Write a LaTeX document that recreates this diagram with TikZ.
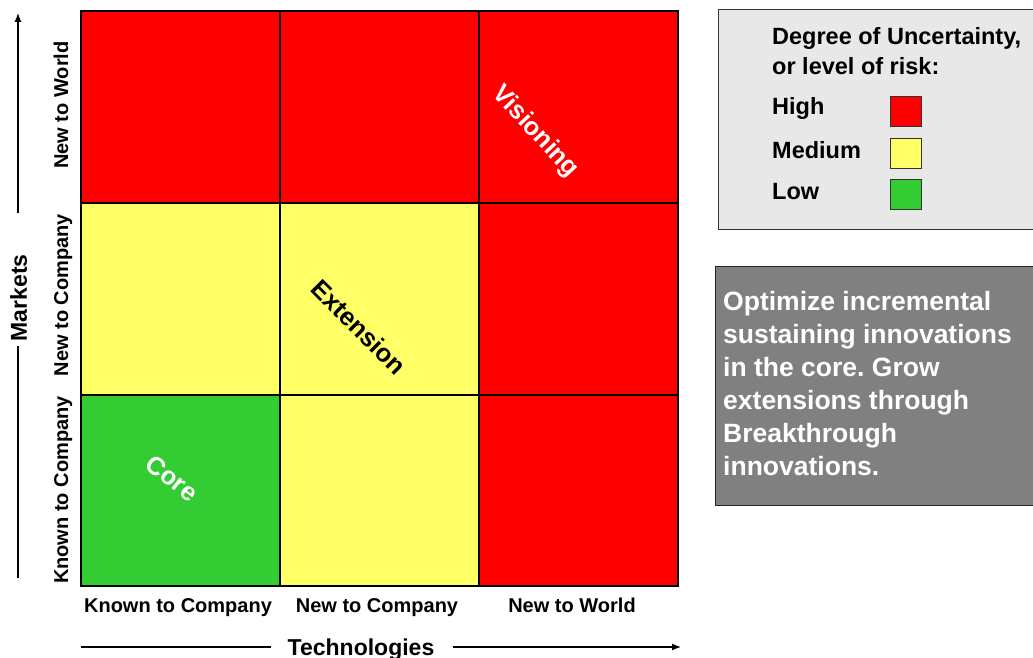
\documentclass[tikz,border=0pt]{standalone}
\usepackage{fontspec}
\setmainfont{Liberation Sans}[BoldFont={Liberation Sans Bold}]
\usetikzlibrary{arrows.meta}
\definecolor{riskhigh}{HTML}{FF0000}
\definecolor{riskmed}{HTML}{FFFF66}
\definecolor{risklow}{HTML}{33CC33}
\definecolor{legendbg}{HTML}{E8E8E8}
\definecolor{notebg}{HTML}{808080}
\frenchspacing
\begin{document}
\begin{tikzpicture}[x=1pt,y=-1pt,
  cell/.style={draw=black,line width=1.1pt},
  axislbl/.style={font=\fontsize{20}{24}\selectfont\bfseries,anchor=base},
  axistitle/.style={font=\fontsize{23}{27}\selectfont\bfseries,anchor=base},
  zone/.style={font=\fontsize{25.5}{30}\selectfont\bfseries},
  legendtxt/.style={font=\fontsize{23.5}{28}\selectfont\bfseries,anchor=west,inner sep=0pt},
  swatch/.style={draw=black!80,line width=0.8pt,minimum width=31pt,minimum height=30pt,inner sep=0pt},
  axisline/.style={line width=1.2pt},
  axistip/.style={-{Latex[length=9pt,width=7pt]}}]
\useasboundingbox (0,0) rectangle (1033,658);

% risk grid (columns: technologies, rows: markets)
\fill[riskhigh] (81,11) rectangle (678,203);
\fill[riskmed] (81,203) rectangle (479,395);
\fill[riskhigh] (479,203) rectangle (678,586);
\fill[risklow] (81,395) rectangle (280,586);
\fill[riskmed] (280,395) rectangle (479,586);
\draw[cell] (280,11) -- (280,586) (479,11) -- (479,586)
            (81,203) -- (678,203) (81,395) -- (678,395);
\draw[cell] (81,11) rectangle (678,586);

% zone names
\node[zone,white,rotate=-47] (vis) at (535,132) {Visioning};
\node[zone,black,rotate=-45] (ext) at (359,327) {Extension};
\node[zone,white,rotate=-38] (core) at (172,478) {Core};

% row labels
\node[axislbl,rotate=90] (rw) at (68,105) {New to World};
\node[axislbl,rotate=90] (rc) at (68,295) {New to Company};
\node[axislbl,rotate=90] (rk) at (68,490) {Known to Company};

% column labels
\node[axislbl] (ck) at (178,612) {Known to Company};
\node[axislbl] (cc) at (377,612) {New to Company};
\node[axislbl] (cw) at (572,612) {New to World};

% axis titles with arrows
\node[axistitle] (tech) at (361,655) {Technologies};
\node[axistitle,rotate=90] (mkt) at (27,298) {Markets};
\coordinate (tl) at (81,647);
\coordinate (tr) at (681,647);
\coordinate (tlg) at (271,647);
\coordinate (trg) at (453,647);
\coordinate (mb) at (18,578);
\coordinate (mt) at (18,13);
\coordinate (mbg) at (18,346);
\coordinate (mtg) at (18,213);
\draw[axisline] (tl) -- (tlg);
\draw[axisline,axistip] (trg) -- (tr);
\draw[axisline] (mb) -- (mbg);
\draw[axisline,axistip] (mtg) -- (mt);

% legend
\draw[fill=legendbg,draw=black!80,line width=1pt] (718,10) rectangle (1045,229);
\node[legendtxt] (lt1) at (772,38) {Degree of Uncertainty,};
\node[legendtxt] (lt2) at (772,66) {or level of risk:};
\node[legendtxt] (lh) at (772,108) {High};
\node[legendtxt] (lm) at (772,150) {Medium};
\node[legendtxt] (ll) at (772,192) {Low};
\node[swatch,fill=riskhigh] (sh) at (905.5,111) {};
\node[swatch,fill=riskmed] (sm) at (905.5,153) {};
\node[swatch,fill=risklow] (sl) at (905.5,194) {};

% strategy note
\draw[fill=notebg,draw=black!85,line width=1pt] (715,266) rectangle (1045,505);
\node[anchor=north west,inner sep=0pt,text=white,align=left,
  font=\fontsize{26.5}{33}\selectfont\bfseries] (note) at (723,291)
  {Optimize incremental\\sustaining innovations\\in the core. Grow\\extensions through\\Breakthrough\\innovations.};
\end{tikzpicture}
\end{document}
